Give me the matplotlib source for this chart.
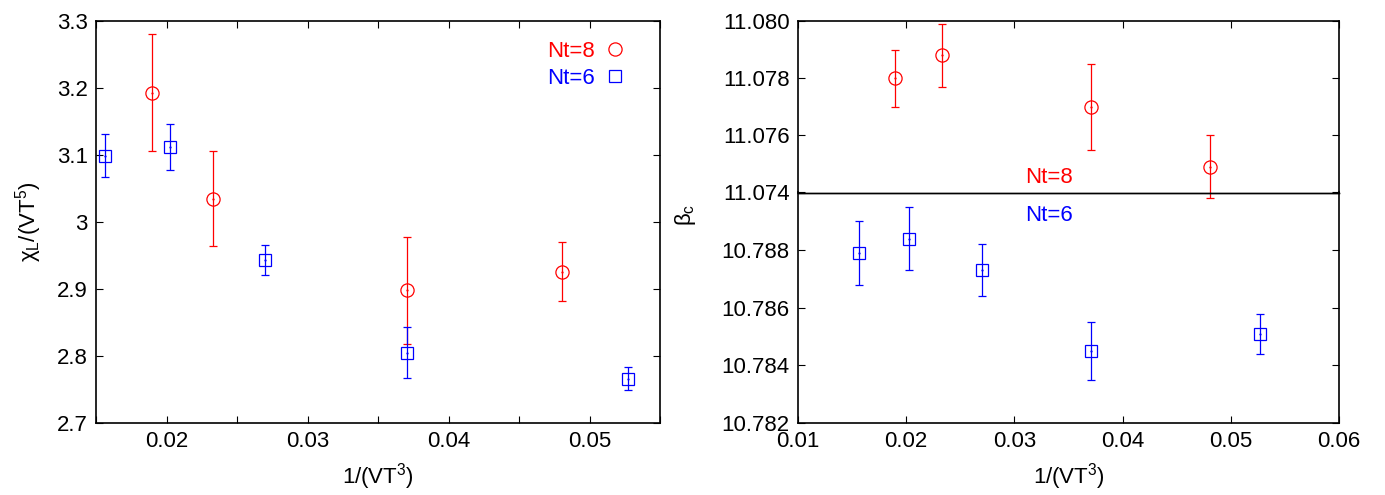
import matplotlib
matplotlib.use("Agg")
import matplotlib.pyplot as plt
from matplotlib.lines import Line2D
from matplotlib.ticker import MultipleLocator, FormatStrFormatter

plt.rcParams['font.family'] = ['Liberation Sans', 'DejaVu Sans']
plt.rcParams['mathtext.fontset'] = 'custom'
plt.rcParams['mathtext.rm'] = 'Liberation Sans'
plt.rcParams['mathtext.it'] = 'Liberation Sans'

# 1/(V T^3) for each lattice
x_nt8 = [0.01896, 0.02332, 0.03704, 0.04808]
x_nt6 = [0.01563, 0.02028, 0.02700, 0.03704, 0.05273]

# susceptibility chi_L / (V T^5)
chi_nt8 = [3.193, 3.035, 2.898, 2.926]
chi_nt8_err = [0.087, 0.071, 0.080, 0.044]
chi_nt6 = [3.099, 3.112, 2.943, 2.805, 2.766]
chi_nt6_err = [0.032, 0.034, 0.022, 0.038, 0.017]

# critical coupling beta_c
beta_nt8 = [11.0780, 11.0788, 11.0770, 11.0749]
beta_nt8_err = [0.0010, 0.0011, 0.0015, 0.0011]
beta_nt6 = [10.7879, 10.7884, 10.7873, 10.7845, 10.7851]
beta_nt6_err = [0.0011, 0.0011, 0.0009, 0.0010, 0.0007]

RED = '#ff0000'
BLUE = '#0000ff'
FS = 16

W, H = 1385, 495
fig = plt.figure(figsize=(W / 100, H / 100), dpi=100)


def px_axes(x0, y0, x1, y1):
    return fig.add_axes([x0 / W, 1 - y1 / H, (x1 - x0) / W, (y1 - y0) / H])


def draw_series(ax, x, y, err, color, marker, ms, clip=True):
    _, caps, bars = ax.errorbar(x, y, yerr=err, fmt='none', ecolor=color,
                                elinewidth=0.9, capsize=3, capthick=0.9, zorder=2)
    for art in list(caps) + list(bars):
        art.set_clip_on(clip)
    ax.plot(x, y, linestyle='none', marker=marker, ms=ms, mfc='none',
            mec=color, mew=0.9, zorder=3)
    ax.plot(x, y, linestyle='none', marker='.', ms=1.2, color=color, zorder=3)


def style(ax):
    ax.tick_params(direction='in', length=5, width=0.8, labelsize=FS,
                   top=True, right=True, pad=6)
    for s in ax.spines.values():
        s.set_linewidth(1.2)


# ---- left panel: susceptibility ----
axL = px_axes(96, 21, 660, 423)
draw_series(axL, x_nt8, chi_nt8, chi_nt8_err, RED, 'o', 9.5)
draw_series(axL, x_nt6, chi_nt6, chi_nt6_err, BLUE, 's', 8.5)
axL.set_xlim(0.015, 0.055)
axL.set_ylim(2.7, 3.3)
axL.xaxis.set_major_locator(MultipleLocator(0.01))
axL.xaxis.set_minor_locator(MultipleLocator(0.005))
axL.yaxis.set_major_locator(MultipleLocator(0.1))
axL.yaxis.set_major_formatter(FormatStrFormatter('%g'))
axL.xaxis.set_major_formatter(FormatStrFormatter('%g'))
style(axL)
axL.tick_params(which='minor', direction='in', length=5, width=0.8, top=True)
axL.set_xlabel('1/(VT$^3$)', fontsize=FS, labelpad=6)
axL.set_ylabel(r'$\chi_L$/(VT$^5$)', fontsize=FS, labelpad=9)

handles = [
    Line2D([], [], linestyle='none', marker='o', ms=9.5, mfc='none', mec=RED, mew=0.9),
    Line2D([], [], linestyle='none', marker='s', ms=8.5, mfc='none', mec=BLUE, mew=0.9),
]
leg = axL.legend(handles, ['Nt=8', 'Nt=6'], loc='upper right', frameon=False,
                 markerfirst=False, fontsize=FS, handlelength=1.0,
                 handletextpad=0.4, labelspacing=0.3, borderaxespad=0.3,
                 bbox_to_anchor=(0.968, 0.99))
for t, c in zip(leg.get_texts(), [RED, BLUE]):
    t.set_color(c)

# ---- right panel: beta_c on a split axis ----
axT = px_axes(798, 21, 1339, 192.5)
axB = px_axes(798, 192.5, 1339, 423)
axB.patch.set_alpha(0)

draw_series(axT, x_nt8, beta_nt8, beta_nt8_err, RED, 'o', 9.5, clip=False)
draw_series(axB, x_nt6, beta_nt6, beta_nt6_err, BLUE, 's', 8.5)

for ax in (axT, axB):
    ax.set_xlim(0.01, 0.06)
    ax.xaxis.set_major_locator(MultipleLocator(0.01))
    ax.yaxis.set_major_locator(MultipleLocator(0.002))
    ax.yaxis.set_major_formatter(FormatStrFormatter('%.3f'))
    style(ax)

axT.set_ylim(11.074, 11.080)
axB.set_ylim(10.782, 10.790)
axT.tick_params(bottom=False, labelbottom=False)
axB.tick_params(top=False)
axB.set_yticks([10.782, 10.784, 10.786, 10.788, 10.790])
axB.set_yticklabels(['10.782', '10.784', '10.786', '10.788', ''])
axB.xaxis.set_major_formatter(FormatStrFormatter('%g'))
axT.spines['bottom'].set_linewidth(1.0)
axB.spines['top'].set_linewidth(1.0)

axB.set_xlabel('1/(VT$^3$)', fontsize=FS, labelpad=6)
fig.text(685 / W, 1 - 215 / H, r'$\beta_c$', fontsize=FS, rotation=90,
         ha='center', va='center')

axT.text(0.0332, 11.07414, 'Nt=8', color=RED, fontsize=FS, ha='center', va='bottom')
axB.text(0.0332, 10.78957, 'Nt=6', color=BLUE, fontsize=FS, ha='center', va='top')

fig.savefig('out.png', dpi=100)
